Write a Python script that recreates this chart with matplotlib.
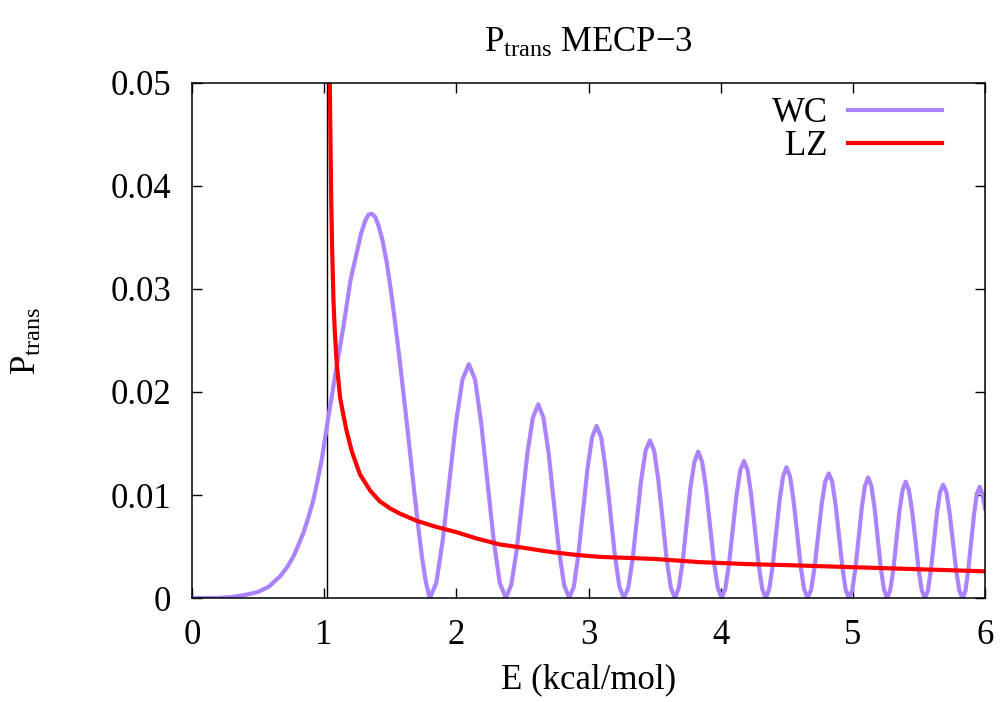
# transition probability vs energy at MECP-3, WC and LZ models

import numpy as np
import matplotlib.pyplot as plt

plt.rcParams['font.family'] = ['Liberation Serif', 'DejaVu Serif']
plt.rcParams['mathtext.fontset'] = 'custom'
plt.rcParams['mathtext.rm'] = 'Liberation Serif'

# crossing energy (vertical line)
Ex = 1.02

# WC probability
E_wc = [0.0, 0.1, 0.2, 0.3, 0.4, 0.5, 0.58, 0.666, 0.72, 0.766, 0.80, 0.842, 0.88, 0.918, 0.95, 0.981, 1.031, 1.082, 1.145,
        1.20, 1.246, 1.28, 1.31, 1.335, 1.359, 1.385, 1.41, 1.44, 1.473, 1.50, 1.53, 1.56, 1.59, 1.62, 1.65, 1.68, 1.71, 1.74, 1.77, 1.80,
        1.849, 1.898, 1.948, 1.997, 2.046, 2.095, 2.142, 2.188, 2.235, 2.282, 2.328, 2.375,
        2.416, 2.457, 2.498, 2.538, 2.579, 2.62, 2.659, 2.698, 2.737, 2.776, 2.815, 2.854,
        2.889, 2.923, 2.958, 2.992, 3.027, 3.061, 3.096, 3.130, 3.165, 3.199, 3.234, 3.268,
        3.301, 3.334, 3.367, 3.399, 3.432, 3.465, 3.497, 3.528, 3.560, 3.591, 3.623, 3.654,
        3.683, 3.713, 3.742, 3.771, 3.801, 3.83, 3.860, 3.889, 3.919, 3.948, 3.978, 4.007,
        4.035, 4.063, 4.092, 4.120, 4.148, 4.176, 4.204, 4.231, 4.259, 4.287, 4.314, 4.342,
        4.368, 4.394, 4.420, 4.446, 4.472, 4.498, 4.525, 4.551, 4.578, 4.604, 4.631, 4.657,
        4.684, 4.711, 4.738, 4.764, 4.791, 4.818, 4.844, 4.869, 4.895, 4.921, 4.946, 4.972,
        4.996, 5.020, 5.044, 5.068, 5.092, 5.116, 5.140, 5.164, 5.188, 5.212, 5.236, 5.26,
        5.283, 5.307, 5.330, 5.353, 5.377, 5.40, 5.424, 5.448, 5.473, 5.497, 5.521, 5.545,
        5.568, 5.591, 5.614, 5.637, 5.660, 5.683, 5.708, 5.732, 5.757, 5.781, 5.806, 5.83,
        5.852, 5.873, 5.895, 5.917, 5.938, 5.96, 5.98, 6.0]
P_wc = [0.0, 0.0, 0.00002, 0.0001, 0.0003, 0.0006, 0.0011, 0.0021, 0.0030, 0.0040, 0.0050, 0.0063, 0.0078, 0.0095, 0.0114, 0.0134, 0.0175, 0.0215, 0.0263,
        0.0309, 0.0335, 0.0354, 0.0366, 0.0372, 0.0373, 0.0370, 0.0362, 0.0348, 0.0326, 0.0303, 0.0274, 0.0243, 0.0210, 0.0176, 0.0141, 0.0105, 0.0071, 0.0040, 0.0015, 0.0,
        0.0015, 0.0057, 0.0114, 0.0170, 0.0212, 0.0227, 0.0212, 0.0170, 0.0114, 0.0057, 0.0015, 0.0,
        0.0013, 0.0047, 0.0094, 0.0141, 0.0175, 0.0188, 0.0175, 0.0141, 0.0094, 0.0047, 0.0013, 0.0,
        0.0011, 0.0042, 0.0084, 0.0125, 0.0156, 0.0167, 0.0156, 0.0125, 0.0084, 0.0042, 0.0011, 0.0,
        0.0010, 0.0038, 0.0077, 0.0115, 0.0143, 0.0153, 0.0143, 0.0115, 0.0077, 0.0038, 0.0010, 0.0,
        0.0010, 0.0036, 0.0071, 0.0107, 0.0132, 0.0142, 0.0132, 0.0107, 0.0071, 0.0036, 0.0010, 0.0,
        0.0009, 0.0033, 0.0067, 0.0100, 0.0124, 0.0133, 0.0124, 0.0100, 0.0067, 0.0033, 0.0009, 0.0,
        0.0009, 0.0032, 0.0064, 0.0095, 0.0118, 0.0127, 0.0118, 0.0095, 0.0064, 0.0032, 0.0009, 0.0,
        0.0008, 0.0030, 0.0061, 0.0091, 0.0113, 0.0121, 0.0113, 0.0091, 0.0061, 0.0030, 0.0008, 0.0,
        0.0008, 0.0029, 0.0059, 0.0088, 0.0109, 0.0117, 0.0109, 0.0088, 0.0059, 0.0029, 0.0008, 0.0,
        0.0008, 0.0028, 0.0057, 0.0085, 0.0105, 0.0113, 0.0105, 0.0085, 0.0057, 0.0028, 0.0008, 0.0,
        0.0007, 0.0028, 0.0055, 0.0083, 0.0103, 0.0110, 0.0103, 0.0083, 0.0055, 0.0028, 0.0007, 0.0,
        0.0007, 0.0027, 0.0054, 0.0081, 0.0101, 0.0108, 0.0101, 0.0087]

# LZ probability
E_lz = [1.040, 1.043, 1.047, 1.053, 1.06, 1.07, 1.08, 1.095, 1.12, 1.145, 1.17, 1.21, 1.271, 1.35, 1.42, 1.5, 1.573,
        1.7, 1.85, 2.0, 2.15, 2.33, 2.5, 2.7, 2.9, 3.086, 3.3, 3.5, 3.83, 4.2, 4.5, 5.0, 5.5, 6.0]
P_lz = [0.060, 0.050, 0.045, 0.039, 0.034, 0.029, 0.026, 0.0228, 0.0195, 0.0178, 0.0162, 0.0142, 0.0120, 0.0104, 0.0094, 0.0087, 0.0082,
        0.0075, 0.0069, 0.0064, 0.0058, 0.0052, 0.0049, 0.0045, 0.0042, 0.0040, 0.0039, 0.0038, 0.0035, 0.0033, 0.0032, 0.0030, 0.0028, 0.0026]

xticks = [0, 1, 2, 3, 4, 5, 6]
yticks = [0, 0.01, 0.02, 0.03, 0.04, 0.05]
yticklabels = ['0', '0.01', '0.02', '0.03', '0.04', '0.05']

fs = 25

fig = plt.figure(figsize=(10, 7.02), dpi=100)
ax = fig.add_axes([0.192, 0.148, 0.793, 0.734])

ax.axvline(Ex, color='k', linewidth=1.0)
ax.plot(E_wc, P_wc, color='#ab82ff', linewidth=3, solid_joinstyle='round', label='WC')
ax.plot(E_lz, P_lz, color='#ff0000', linewidth=3, solid_joinstyle='round', label='LZ')

ax.set_xlim(0, 6)
ax.set_ylim(0, 0.05)
ax.set_xticks(xticks)
ax.set_yticks(yticks)
ax.set_yticklabels(yticklabels)
ax.tick_params(direction='in', top=True, right=True, length=7, width=1, labelsize=fs, pad=15)
for s in ax.spines.values():
    s.set_linewidth(1.1)

ax.set_xlabel('E (kcal/mol)', fontsize=fs, labelpad=8)
ax.set_ylabel(r'$\mathrm{P_{trans}}$', fontsize=fs, labelpad=48)
ax.set_title(r'$\mathrm{P_{trans}}$ MECP−3', fontsize=fs, pad=22)

leg = ax.legend(loc='upper right', bbox_to_anchor=(0.959, 0.992), frameon=False, fontsize=fs, markerfirst=False,
                handlelength=2.7, handletextpad=0.6, labelspacing=0.0,
                borderaxespad=0.0, borderpad=0.3)

plt.savefig('out.png', dpi=100)
